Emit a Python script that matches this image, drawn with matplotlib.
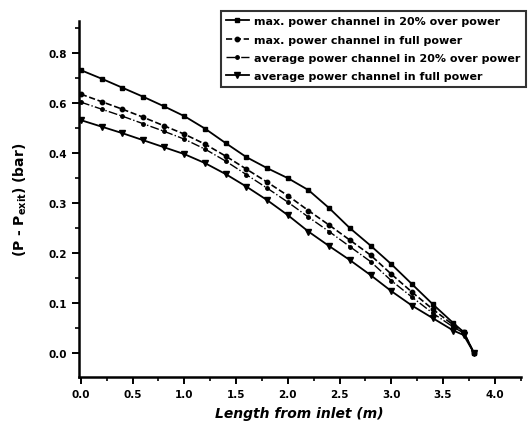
import matplotlib
matplotlib.use("Agg")
import matplotlib.pyplot as plt
from matplotlib.ticker import MultipleLocator, FixedLocator, FixedFormatter

length = [0.0, 0.2, 0.4, 0.6, 0.8, 1.0, 1.2, 1.4, 1.6, 1.8, 2.0, 2.2, 2.4,
          2.6, 2.8, 3.0, 3.2, 3.4, 3.6, 3.7, 3.8]

max_20_over = [0.566, 0.549, 0.531, 0.513, 0.494, 0.474, 0.449, 0.420, 0.392,
               0.370, 0.350, 0.326, 0.290, 0.250, 0.215, 0.178, 0.138, 0.098,
               0.060, 0.042, 0.0]
max_full = [0.518, 0.503, 0.488, 0.472, 0.455, 0.438, 0.418, 0.394, 0.368,
            0.342, 0.315, 0.285, 0.256, 0.226, 0.196, 0.158, 0.122, 0.088,
            0.056, 0.042, 0.0]
avg_20_over = [0.502, 0.488, 0.474, 0.459, 0.444, 0.428, 0.408, 0.384, 0.357,
               0.330, 0.302, 0.272, 0.243, 0.213, 0.183, 0.145, 0.112, 0.080,
               0.052, 0.040, 0.0]
avg_full = [0.466, 0.453, 0.440, 0.426, 0.412, 0.398, 0.380, 0.358, 0.333,
            0.306, 0.276, 0.243, 0.214, 0.186, 0.156, 0.124, 0.095, 0.070,
            0.045, 0.036, 0.0]

labels = ["max. power channel in 20% over power",
          "max. power channel in full power",
          "average power channel in 20% over power",
          "average power channel in full power"]

y_tick_values = [0.0, 0.1, 0.2, 0.3, 0.4, 0.5, 0.6]
y_tick_labels = ["0.0", "0.1", "0.2", "0.3", "0.4", "0.6", "0.8"]
x_tick_values = [0.0, 0.5, 1.0, 1.5, 2.0, 2.5, 3.0, 3.5, 4.0]

fig = plt.figure(figsize=(5.29, 4.35), dpi=100)
ax = fig.add_axes([0.149, 0.131, 0.835, 0.818])

ax.plot(length, max_20_over, color="black", linestyle="-", marker="s",
        markersize=3.2, linewidth=1.3, label=labels[0])
ax.plot(length, max_full, color="black", linestyle="--", marker="o",
        markersize=3.2, linewidth=1.2, label=labels[1])
ax.plot(length, avg_20_over, color="black", linestyle="-.", marker="o",
        markersize=2.5, linewidth=1.0, label=labels[2])
ax.plot(length, avg_full, color="black", linestyle="-", marker="v",
        markersize=3.8, linewidth=1.3, label=labels[3])

ax.set_xlim(-0.02, 4.25)
ax.set_ylim(-0.048, 0.664)

ax.xaxis.set_major_locator(FixedLocator(x_tick_values))
ax.xaxis.set_minor_locator(MultipleLocator(0.25))
ax.yaxis.set_major_locator(FixedLocator(y_tick_values))
ax.yaxis.set_major_formatter(FixedFormatter(y_tick_labels))
ax.yaxis.set_minor_locator(MultipleLocator(0.05))

for side in ["top", "right"]:
    ax.spines[side].set_visible(False)
for side in ["left", "bottom"]:
    ax.spines[side].set_linewidth(1.8)

ax.tick_params(which="major", direction="out", length=5, width=1.4,
               labelsize=7.5)
ax.tick_params(which="minor", direction="out", length=3, width=1.2)
for lab in ax.get_xticklabels() + ax.get_yticklabels():
    lab.set_fontweight("bold")

ax.set_xlabel("Length from inlet (m)", fontsize=10, fontstyle="italic",
              fontweight="bold", labelpad=5)
ax.set_ylabel("(P - P$_{\\mathbf{exit}}$) (bar)", fontsize=10,
              fontweight="bold", labelpad=14)

leg = ax.legend(loc="upper right", bbox_to_anchor=(1.025, 1.045),
                frameon=True, fancybox=False, edgecolor="black",
                handlelength=2.0, labelspacing=0.75, borderpad=0.5,
                handletextpad=0.5,
                prop={"weight": "bold", "size": 8})
leg.get_frame().set_linewidth(1.5)

fig.savefig("out.png", dpi=100)
